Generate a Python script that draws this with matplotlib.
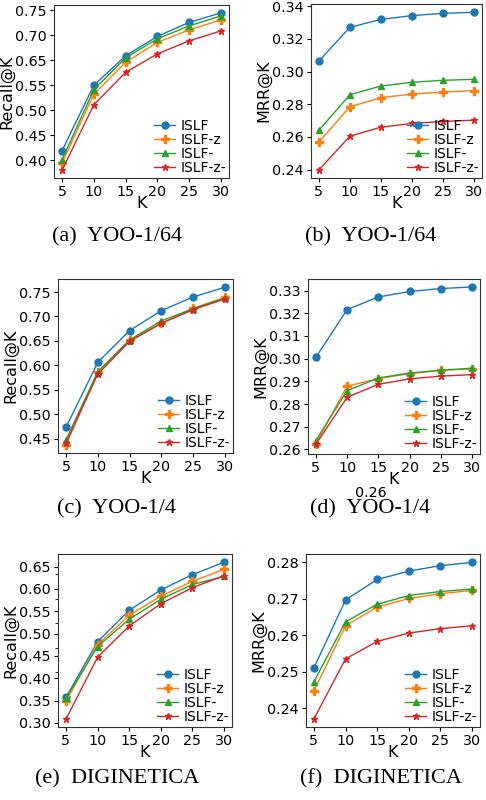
import matplotlib
matplotlib.use("Agg")
import matplotlib.pyplot as plt

K = [5, 10, 15, 20, 25, 30]
names = ["ISLF", "ISLF-z", "ISLF-", "ISLF-z-"]

# (a) YOO-1/64 recall -- read in axis position units (tick labels skip 0.60)
a_vals = [
    [0.469, 0.600, 0.659, 0.698, 0.726, 0.745],
    [0.444, 0.582, 0.646, 0.686, 0.711, 0.731],
    [0.451, 0.591, 0.655, 0.693, 0.719, 0.739],
    [0.430, 0.561, 0.626, 0.663, 0.689, 0.709],
]
a_ticks = [0.45, 0.50, 0.55, 0.60, 0.65, 0.70, 0.75]
a_labels = ["0.40", "0.45", "0.50", "0.55", "0.65", "0.70", "0.75"]

# (b) YOO-1/64 MRR
b_vals = [
    [0.3064, 0.3271, 0.3320, 0.3343, 0.3357, 0.3363],
    [0.2568, 0.2785, 0.2841, 0.2863, 0.2875, 0.2884],
    [0.2640, 0.2859, 0.2912, 0.2935, 0.2947, 0.2953],
    [0.2398, 0.2605, 0.2660, 0.2683, 0.2695, 0.2703],
]

# (c) YOO-1/4 recall
c_vals = [
    [0.473, 0.606, 0.671, 0.712, 0.740, 0.760],
    [0.437, 0.586, 0.651, 0.686, 0.717, 0.739],
    [0.447, 0.587, 0.652, 0.691, 0.716, 0.738],
    [0.441, 0.582, 0.649, 0.686, 0.714, 0.736],
]

# (d) YOO-1/4 MRR
d_vals = [
    [0.3006, 0.3216, 0.3272, 0.3296, 0.3309, 0.3316],
    [0.2625, 0.2879, 0.2912, 0.2934, 0.2949, 0.2955],
    [0.2639, 0.2859, 0.2915, 0.2937, 0.2949, 0.2958],
    [0.2622, 0.2830, 0.2887, 0.2911, 0.2923, 0.2930],
]

# (e) DIGINETICA recall
e_vals = [
    [0.357, 0.482, 0.552, 0.598, 0.632, 0.660],
    [0.348, 0.475, 0.541, 0.584, 0.617, 0.644],
    [0.355, 0.471, 0.532, 0.577, 0.610, 0.628],
    [0.308, 0.447, 0.517, 0.567, 0.603, 0.630],
]

# (f) DIGINETICA MRR
f_vals = [
    [0.2510, 0.2697, 0.2753, 0.2776, 0.2791, 0.2800],
    [0.2447, 0.2626, 0.2677, 0.2701, 0.2714, 0.2723],
    [0.2472, 0.2637, 0.2685, 0.2709, 0.2720, 0.2727],
    [0.2370, 0.2535, 0.2583, 0.2606, 0.2618, 0.2626],
]

colors = ["#1f77b4", "#ff7f0e", "#2ca02c", "#d62728"]
markers = ["o", "P", "^", "*"]
msizes = [5, 5.5, 5, 5]

W, H = 486, 800
fig = plt.figure(figsize=(W / 100, H / 100), dpi=100)


def panel(l, t, r, b, vals, ylabel, ylim, yticks, ylabels):
    ax = fig.add_axes([l / W, 1 - b / H, (r - l) / W, (b - t) / H])
    for i in range(4):
        ax.plot(K, vals[i], color=colors[i], marker=markers[i],
                markersize=msizes[i], linewidth=1, label=names[i])
    ax.set_xlim(3.75, 31.25)
    ax.set_ylim(*ylim)
    ax.set_xticks(K)
    ax.set_yticks(yticks)
    ax.set_yticklabels(ylabels)
    ax.tick_params(labelsize=10.3, length=3, pad=2)
    ax.set_xlabel("K", fontsize=11.5, labelpad=-2)
    ax.set_ylabel(ylabel, fontsize=11.5, labelpad=1)
    for s in ax.spines.values():
        s.set_color("#333333")
    ax.legend(loc="lower right", frameon=False, fontsize=10,
              handlelength=1.5, borderpad=0.1, labelspacing=0.0,
              handletextpad=0.4, borderaxespad=0.1)
    return ax


panel(54, 5, 229, 178, a_vals, "Recall@K", (0.4147, 0.7607), a_ticks, a_labels)
panel(311, 4, 482, 178, b_vals, "MRR@K", (0.2349, 0.3414),
      [0.24, 0.26, 0.28, 0.30, 0.32, 0.34],
      ["0.24", "0.26", "0.28", "0.30", "0.32", "0.34"])
panel(58, 279, 233, 453, c_vals, "Recall@K", (0.4205, 0.7767),
      [0.45, 0.50, 0.55, 0.60, 0.65, 0.70, 0.75],
      ["0.45", "0.50", "0.55", "0.60", "0.65", "0.70", "0.75"])
panel(308, 279, 480, 454, d_vals, "MRR@K", (0.2580, 0.3351),
      [0.26, 0.27, 0.28, 0.29, 0.30, 0.31, 0.32, 0.33],
      ["0.26", "0.27", "0.28", "0.29", "0.30", "0.31", "0.32", "0.33"])
ax_e = panel(58, 554, 232, 727, e_vals, "Recall@K", (0.2908, 0.6783),
             [0.30, 0.35, 0.40, 0.45, 0.50, 0.55, 0.60, 0.65],
             ["0.30", "0.35", "0.40", "0.45", "0.50", "0.55", "0.60", "0.65"])
ax_e.set_yticks([0.413, 0.468, 0.523, 0.578, 0.633], minor=True)
ax_e.tick_params(axis="y", which="minor", length=2)
panel(306, 554, 480, 727, f_vals, "MRR@K", (0.2348, 0.2823),
      [0.24, 0.25, 0.26, 0.27, 0.28],
      ["0.24", "0.25", "0.26", "0.27", "0.28"])

captions = [
    (117, 237, "(a)  YOO-1/64"),
    (371, 237, "(b)  YOO-1/64"),
    (116, 509, "(c)  YOO-1/4"),
    (370, 509, "(d)  YOO-1/4"),
    (117, 779, "(e)  DIGINETICA"),
    (381, 779, "(f)  DIGINETICA"),
]
for x, y, s in captions:
    fig.text(x / W, 1 - y / H, s, ha="center", va="center",
             family="Liberation Serif", fontsize=16)

# stray label visible behind caption (d)
fig.text(371 / W, 1 - 493 / H, "0.26", ha="center", va="center", fontsize=10.3)

fig.savefig("out.png", dpi=100)
